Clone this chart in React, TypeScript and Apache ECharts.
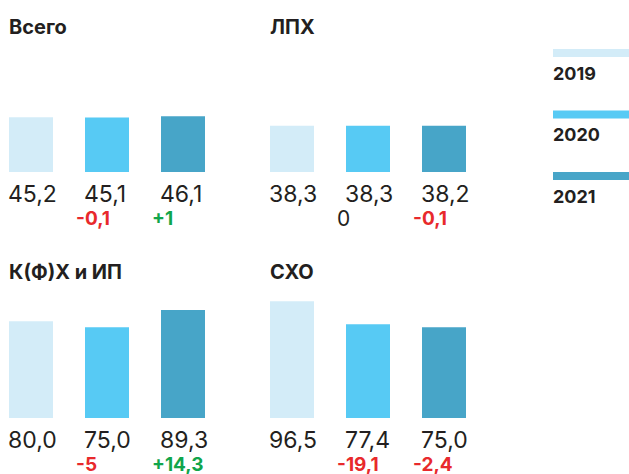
import React, { useEffect, useRef } from "react";
import * as echarts from "echarts";

const years = ["2019", "2020", "2021"];
const panelTitles = ["Всего", "ЛПХ", "К(Ф)Х и ИП", "СХО"];
const valuesTotal = [45.2, 45.1, 46.1];
const valuesLph = [38.3, 38.3, 38.2];
const valuesKfh = [80.0, 75.0, 89.3];
const valuesSho = [96.5, 77.4, 75.0];
const deltasTotal: (number | null)[] = [null, -0.1, 1];
const deltasLph: (number | null)[] = [null, 0, -0.1];
const deltasKfh: (number | null)[] = [null, -5, 14.3];
const deltasSho: (number | null)[] = [null, -19.1, -2.4];

const panelValues = [valuesTotal, valuesLph, valuesKfh, valuesSho];
const panelDeltas = [deltasTotal, deltasLph, deltasKfh, deltasSho];

const yearColors = ["#d3ecf8", "#57caf4", "#47a5c8"];
const FONT = "Inter";
const TEXT = "#231f20";
const RED = "#e8292c";
const GREEN = "#10a54b";

// chart canvas is shifted 7px to the left of the page
const SHIFT = 7;
const gridPos = [
  { left: 0, top: 51 },
  { left: 261, top: 51 },
  { left: 0, top: 297 },
  { left: 261, top: 297 },
];

const fmtVal = (v: number) => v.toFixed(1).replace(".", ",");
const fmtDelta = (d: number) => {
  if (d === 0) return "0";
  const s = String(Math.abs(d)).replace(".", ",");
  return (d > 0 ? "+" : "-") + s;
};

export default function App() {
  const ref = useRef<HTMLDivElement>(null);
  useEffect(() => {
    document.body.style.margin = "0";
    document.body.style.overflow = "hidden";
    if (!ref.current) return;
    const chart = echarts.init(ref.current, undefined, { renderer: "svg" });

    const option: any = {
      animation: false,
      backgroundColor: "#ffffff",
      title: panelTitles.map((t, i) => ({
        text: t,
        left: (i % 2 === 0 ? 9 : 270) + SHIFT,
        top: i < 2 ? 17 : 262,
        padding: 0,
        textStyle: {
          fontFamily: FONT,
          fontSize: 20,
          fontWeight: "bold",
          color: TEXT,
          lineHeight: 20,
        },
      })),
      grid: gridPos.map((g) => ({
        left: g.left,
        top: g.top,
        width: 228,
        height: 121,
        containLabel: false,
      })),
      xAxis: gridPos.map((_, i) => ({
        type: "category",
        gridIndex: i,
        data: years,
        show: false,
        boundaryGap: true,
      })),
      yAxis: gridPos.map((_, i) => ({
        type: "value",
        gridIndex: i,
        min: 0,
        max: 100,
        show: false,
      })),
      series: panelValues.map((vals, i) => ({
        type: "bar",
        xAxisIndex: i,
        yAxisIndex: i,
        barWidth: 44,
        data: vals.map((v, j) => ({
          value: v,
          itemStyle: { color: yearColors[j] },
        })),
        label: {
          show: true,
          position: "bottom",
          distance: 6,
          align: "left",
          verticalAlign: "top",
          offset: [-31, 0],
          formatter: (p: any) => {
            const v = `{v|${fmtVal(p.value)}}`;
            const d = panelDeltas[i][p.dataIndex];
            if (d === null || d === undefined) return v;
            const cls = d > 0 ? "g" : d < 0 ? "r" : "z";
            return `${v}\n{${cls}|${fmtDelta(d)}}`;
          },
          rich: {
            v: {
              fontFamily: FONT,
              fontSize: 23,
              lineHeight: 32,
              color: TEXT,
              padding: [0, 0, 0, 8],
            },
            r: {
              fontFamily: FONT,
              fontSize: 19,
              fontWeight: "bold",
              lineHeight: 16,
              color: RED,
            },
            g: {
              fontFamily: FONT,
              fontSize: 19,
              fontWeight: "bold",
              lineHeight: 16,
              color: GREEN,
            },
            z: {
              fontFamily: FONT,
              fontSize: 21,
              lineHeight: 16,
              color: TEXT,
            },
          },
        },
      })),
      graphic: years.flatMap((y, k) => [
        {
          type: "rect",
          left: 553 + SHIFT,
          top: 49 + k * 61.5,
          shape: { width: 76, height: 8 },
          style: { fill: yearColors[k] },
        },
        {
          type: "text",
          left: 553 + SHIFT,
          top: 49 + k * 61.5 + 15,
          style: {
            text: y,
            fontFamily: FONT,
            fontSize: 18,
            fontWeight: "bold",
            fill: TEXT,
          },
        },
      ]),
    };

    chart.setOption(option);
    return () => chart.dispose();
  }, []);

  return (
    <div
      ref={ref}
      style={{ width: 629 + SHIFT, height: 474, position: "relative", left: -SHIFT }}
    />
  );
}
